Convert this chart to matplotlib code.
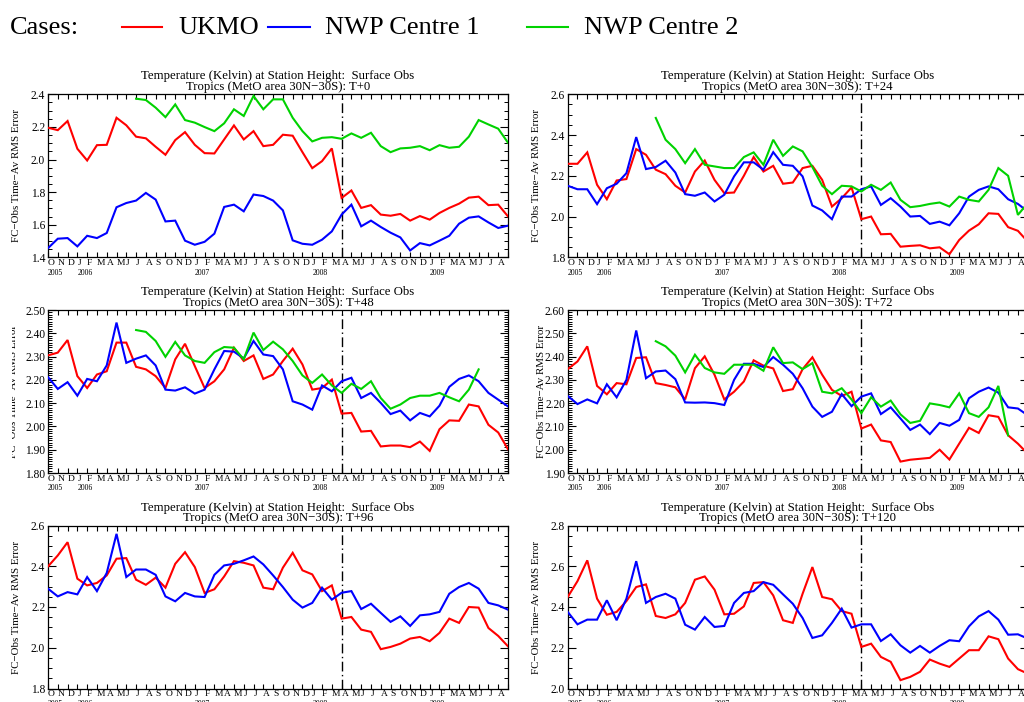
import numpy as np
import matplotlib
matplotlib.use("Agg")
import matplotlib.pyplot as plt
from matplotlib.lines import Line2D
from matplotlib.ticker import MultipleLocator, FormatStrFormatter
from matplotlib.transforms import offset_copy, Bbox

# ---------------- data ----------------
month_labels = list("OND") + list("JFMAMJJASOND") * 3 + list("JFMAMJJA")
year_pos = [0, 3, 15, 27, 39]
year_text = ["2005", "2006", "2007", "2008", "2009"]
split_index = 30  # April 2008

lead_times = [0, 24, 48, 72, 96, 120]
title_line1 = "Temperature (Kelvin) at Station Height:  Surface Obs"
title_line2 = "Tropics (MetO area 30N\u221230S): T+{}"
ylabel_text = "FC\u2212Obs Time\u2212Av RMS Error"
series_names = ["UKMO", "NWP Centre 1", "NWP Centre 2"]
series_colors = ["#ff0000", "#0000ff", "#00d200"]
green_start = 9

t0_ukmo = [2.195, 2.18, 2.236, 2.066, 1.994, 2.088, 2.09, 2.256, 2.21, 2.14, 2.13, 2.078,
           2.029, 2.119, 2.168, 2.09, 2.039, 2.037, 2.123, 2.209, 2.123, 2.174, 2.082, 2.09,
           2.152, 2.146, 2.045, 1.947, 1.99, 2.068, 1.764, 1.81, 1.703, 1.72, 1.662, 1.655,
           1.666, 1.625, 1.653, 1.631, 1.672, 1.703, 1.729, 1.766, 1.772, 1.72, 1.723, 1.651]
t0_nwp1 = [1.456, 1.514, 1.518, 1.467, 1.532, 1.518, 1.549, 1.707, 1.733, 1.748, 1.795, 1.754,
           1.62, 1.625, 1.502, 1.477, 1.495, 1.545, 1.709, 1.723, 1.682, 1.785, 1.776, 1.748,
           1.688, 1.504, 1.483, 1.477, 1.508, 1.559, 1.662, 1.723, 1.59, 1.625, 1.586, 1.551,
           1.522, 1.442, 1.487, 1.473, 1.502, 1.532, 1.606, 1.643, 1.651, 1.614, 1.58, 1.594]
t0_nwp2 = [2.373, 2.365, 2.318, 2.26, 2.338, 2.242, 2.226, 2.199, 2.174, 2.222, 2.308, 2.267,
           2.39, 2.308, 2.369, 2.369, 2.256, 2.174, 2.111, 2.133, 2.137, 2.127, 2.16, 2.133,
           2.164, 2.082, 2.045, 2.068, 2.072, 2.082, 2.057, 2.088, 2.072, 2.078, 2.14, 2.242,
           2.215, 2.189, 2.103]

t24_ukmo = [2.259, 2.259, 2.315, 2.156, 2.085, 2.177, 2.184, 2.331, 2.303, 2.23, 2.208, 2.151,
            2.118, 2.221, 2.275, 2.18, 2.115, 2.118, 2.2, 2.292, 2.221, 2.249, 2.161, 2.167,
            2.238, 2.249, 2.18, 2.049, 2.09, 2.143, 1.987, 2.0, 1.913, 1.915, 1.852, 1.856,
            1.859, 1.844, 1.849, 1.815, 1.885, 1.931, 1.962, 2.016, 2.013, 1.948, 1.93, 1.877]
t24_nwp1 = [2.151, 2.134, 2.134, 2.061, 2.139, 2.161, 2.213, 2.39, 2.233, 2.243, 2.274, 2.216,
            2.11, 2.102, 2.118, 2.074, 2.107, 2.197, 2.266, 2.266, 2.23, 2.316, 2.254, 2.249,
            2.197, 2.054, 2.03, 1.987, 2.098, 2.098, 2.134, 2.148, 2.057, 2.09, 2.049, 2.0,
            2.003, 1.964, 1.975, 1.957, 2.016, 2.098, 2.131, 2.148, 2.134, 2.085, 2.062, 2.025]
t24_nwp2 = [2.484, 2.377, 2.331, 2.262, 2.331, 2.254, 2.246, 2.238, 2.238, 2.292, 2.315, 2.254,
            2.377, 2.298, 2.344, 2.32, 2.243, 2.151, 2.11, 2.151, 2.148, 2.123, 2.156, 2.131,
            2.167, 2.082, 2.046, 2.052, 2.062, 2.069, 2.049, 2.098, 2.082, 2.074, 2.131, 2.238,
            2.2, 2.008, 2.066]

t48_ukmo = [2.305, 2.317, 2.371, 2.216, 2.165, 2.223, 2.237, 2.36, 2.36, 2.256, 2.245, 2.216,
            2.165, 2.288, 2.355, 2.259, 2.165, 2.194, 2.245, 2.338, 2.281, 2.305, 2.204, 2.223,
            2.281, 2.334, 2.266, 2.158, 2.165, 2.201, 2.055, 2.058, 1.978, 1.981, 1.914, 1.918,
            1.918, 1.911, 1.935, 1.895, 1.988, 2.026, 2.024, 2.094, 2.086, 2.007, 1.974, 1.902]
t48_nwp1 = [2.212, 2.161, 2.19, 2.132, 2.204, 2.194, 2.262, 2.446, 2.273, 2.291, 2.305, 2.262,
            2.158, 2.154, 2.168, 2.141, 2.158, 2.245, 2.324, 2.321, 2.292, 2.367, 2.309, 2.302,
            2.245, 2.108, 2.094, 2.072, 2.176, 2.151, 2.194, 2.209, 2.122, 2.144, 2.101, 2.053,
            2.068, 2.026, 2.058, 2.043, 2.089, 2.17, 2.204, 2.219, 2.194, 2.144, 2.115, 2.086]
t48_nwp2 = [2.414, 2.406, 2.367, 2.299, 2.363, 2.305, 2.281, 2.273, 2.319, 2.341, 2.338, 2.288,
            2.403, 2.328, 2.364, 2.331, 2.281, 2.219, 2.187, 2.223, 2.176, 2.144, 2.183, 2.161,
            2.194, 2.122, 2.076, 2.094, 2.122, 2.132, 2.132, 2.144, 2.125, 2.108, 2.158, 2.245]

t72_ukmo = [2.346, 2.379, 2.444, 2.274, 2.238, 2.286, 2.281, 2.394, 2.397, 2.286, 2.278, 2.268,
            2.216, 2.35, 2.401, 2.322, 2.216, 2.249, 2.293, 2.384, 2.361, 2.349, 2.252, 2.26,
            2.346, 2.397, 2.322, 2.257, 2.231, 2.249, 2.091, 2.108, 2.04, 2.033, 1.949, 1.957,
            1.961, 1.965, 2.0, 1.958, 2.026, 2.094, 2.072, 2.148, 2.141, 2.062, 2.026, 1.983]
t72_nwp1 = [2.231, 2.196, 2.216, 2.199, 2.281, 2.225, 2.3, 2.512, 2.307, 2.336, 2.34, 2.303,
            2.203, 2.202, 2.203, 2.2, 2.192, 2.3, 2.369, 2.369, 2.355, 2.398, 2.365, 2.326,
            2.264, 2.185, 2.141, 2.163, 2.239, 2.187, 2.228, 2.242, 2.153, 2.182, 2.134, 2.085,
            2.108, 2.067, 2.115, 2.103, 2.128, 2.221, 2.249, 2.267, 2.245, 2.182, 2.177, 2.148]
t72_nwp2 = [2.466, 2.444, 2.404, 2.332, 2.408, 2.351, 2.332, 2.326, 2.365, 2.365, 2.365, 2.339,
            2.44, 2.372, 2.375, 2.346, 2.372, 2.249, 2.242, 2.264, 2.216, 2.157, 2.225, 2.185,
            2.211, 2.152, 2.115, 2.124, 2.199, 2.192, 2.182, 2.242, 2.157, 2.141, 2.182, 2.274,
            2.062]

t96_ukmo = [2.399, 2.453, 2.518, 2.339, 2.306, 2.318, 2.355, 2.437, 2.44, 2.334, 2.309, 2.344,
            2.295, 2.412, 2.469, 2.396, 2.269, 2.287, 2.35, 2.425, 2.417, 2.404, 2.295, 2.287,
            2.393, 2.466, 2.38, 2.36, 2.278, 2.306, 2.143, 2.151, 2.089, 2.078, 1.993, 2.004,
            2.02, 2.045, 2.053, 2.032, 2.073, 2.143, 2.122, 2.2, 2.197, 2.097, 2.058, 2.007]
t96_nwp1 = [2.29, 2.252, 2.273, 2.262, 2.347, 2.278, 2.367, 2.559, 2.347, 2.384, 2.384, 2.358,
            2.252, 2.228, 2.269, 2.252, 2.249, 2.358, 2.404, 2.412, 2.429, 2.448, 2.409, 2.355,
            2.298, 2.236, 2.197, 2.22, 2.295, 2.236, 2.27, 2.278, 2.19, 2.216, 2.171, 2.127,
            2.154, 2.107, 2.159, 2.164, 2.176, 2.265, 2.298, 2.318, 2.29, 2.22, 2.208, 2.187]

t120_ukmo = [2.449, 2.527, 2.629, 2.441, 2.362, 2.376, 2.429, 2.498, 2.511, 2.356, 2.346, 2.364,
             2.42, 2.534, 2.55, 2.485, 2.364, 2.367, 2.403, 2.518, 2.522, 2.457, 2.335, 2.322,
             2.465, 2.596, 2.449, 2.438, 2.38, 2.367, 2.204, 2.22, 2.155, 2.131, 2.041, 2.057,
             2.082, 2.142, 2.122, 2.106, 2.147, 2.188, 2.188, 2.256, 2.242, 2.147, 2.095, 2.073]
t120_nwp1 = [2.376, 2.315, 2.338, 2.338, 2.433, 2.335, 2.441, 2.625, 2.42, 2.449, 2.465, 2.441,
             2.313, 2.289, 2.351, 2.302, 2.307, 2.42, 2.469, 2.478, 2.522, 2.509, 2.462, 2.416,
             2.346, 2.248, 2.261, 2.322, 2.392, 2.299, 2.315, 2.315, 2.233, 2.266, 2.212, 2.176,
             2.209, 2.176, 2.209, 2.237, 2.232, 2.305, 2.354, 2.38, 2.338, 2.264, 2.266, 2.245]

panel_series = [
    [t0_ukmo, t0_nwp1, t0_nwp2],
    [t24_ukmo, t24_nwp1, t24_nwp2],
    [t48_ukmo, t48_nwp1, t48_nwp2],
    [t72_ukmo, t72_nwp1, t72_nwp2],
    [t96_ukmo, t96_nwp1, None],
    [t120_ukmo, t120_nwp1, None],
]
y_limits = [(1.4, 2.4), (1.8, 2.6), (1.8, 2.5), (1.9, 2.6), (1.8, 2.6), (2.0, 2.8)]
y_major = [0.2, 0.2, 0.1, 0.1, 0.2, 0.2]
y_minor = [0.05, 0.05, 0.01, 0.01, 0.05, 0.05]
y_fmt = ["%.1f", "%.1f", "%.2f", "%.2f", "%.1f", "%.1f"]

# ---------------- layout ----------------
W, H = 1024, 702
SERIF = ["Liberation Serif", "DejaVu Serif"]
plt.rcParams["font.family"] = SERIF

fig = plt.figure(figsize=(W / 100, H / 100), dpi=100)
fig.patch.set_facecolor("white")

col_x = [48.0, 567.7]
ax_w = 460.0
row_top = [94.3, 310.0, 525.5]
ax_h = 163.0
ylabel_x = [[16.7, 536.7], [14.0, 541.7], [16.7, 536.7]]


def fx(x):
    return x / W


def fy(y):
    return 1 - y / H


n_months = len(t0_ukmo)

for k in range(6):
    r, c = divmod(k, 2)
    left = col_x[c]
    top = row_top[r]
    ax = fig.add_axes([fx(left), fy(top + ax_h), ax_w / W, ax_h / H])
    ax.set_xlim(0, n_months - 1)
    ax.set_ylim(*y_limits[k])

    for s, series in enumerate(panel_series[k]):
        if series is None:
            continue
        start = green_start if s == 2 else 0
        xs = np.arange(start, start + len(series))
        ax.plot(xs, series, color=series_colors[s], lw=1.5, solid_joinstyle="miter", zorder=3)

    ax.axvline(split_index, color="black", lw=1.0, ls=(0, (7, 2.5, 1, 2.5)), zorder=2)

    # y ticks
    ax.yaxis.set_major_locator(MultipleLocator(y_major[k]))
    ax.yaxis.set_minor_locator(MultipleLocator(y_minor[k]))
    ax.yaxis.set_major_formatter(FormatStrFormatter(y_fmt[k]))
    ax.tick_params(axis="y", which="major", direction="in", length=6, width=0.8,
                   left=True, right=True, labelsize=8.3, pad=2)
    ax.tick_params(axis="y", which="minor", direction="in", length=3.2, width=0.7,
                   left=True, right=True)
    # x ticks
    ax.set_xticks(np.arange(0, n_months))
    ax.tick_params(axis="x", which="major", direction="in", length=3.5, width=0.8,
                   bottom=True, top=True, labelbottom=False)
    for sp in ax.spines.values():
        sp.set_linewidth(0.9)

    trans_m = offset_copy(ax.get_xaxis_transform(), fig=fig, x=0, y=-2, units="dots")
    for i, lab in enumerate(month_labels):
        ax.text(i, 0, lab, transform=trans_m, ha="left", va="top", fontsize=6.8,
                clip_on=False)
    trans_y = offset_copy(ax.get_xaxis_transform(), fig=fig, x=0, y=-11.5, units="dots")
    for p, t in zip(year_pos, year_text):
        ax.text(p, 0, t, transform=trans_y, ha="left", va="top", fontsize=5.6,
                clip_on=False)

    # titles
    cx = fx(left + ax_w / 2)
    fig.text(cx, fy(top - 15.0), title_line1, ha="center", va="baseline", fontsize=9.2)
    fig.text(cx, fy(top - 4.0), title_line2.format(lead_times[k]), ha="center",
             va="baseline", fontsize=9.2)

    # y label
    yl = fig.text(fx(ylabel_x[r][c]), fy(top + ax_h / 2), ylabel_text, rotation=90,
                  ha="center", va="center", fontsize=7.8)
    if r == 1 and c == 0:
        yl.set_clip_box(Bbox.from_extents(12.0, 0, W, H))
        yl.set_clip_on(True)

# ---------------- legend ----------------
leg_base = 34.0
leg_line_y = 26.5
fig.text(fx(10), fy(leg_base), "Cases:", fontsize=19, ha="left", va="baseline")
leg_line_x = [(122, 162), (268, 310), (527, 568)]
leg_text_x = [178, 325, 584]
for s in range(3):
    x0, x1 = leg_line_x[s]
    fig.add_artist(Line2D([fx(x0), fx(x1)], [fy(leg_line_y), fy(leg_line_y)],
                          transform=fig.transFigure, color=series_colors[s], lw=1.5))
    fig.text(fx(leg_text_x[s]), fy(leg_base), series_names[s], fontsize=19,
             ha="left", va="baseline")

fig.savefig("out.png", dpi=100, facecolor="white")
